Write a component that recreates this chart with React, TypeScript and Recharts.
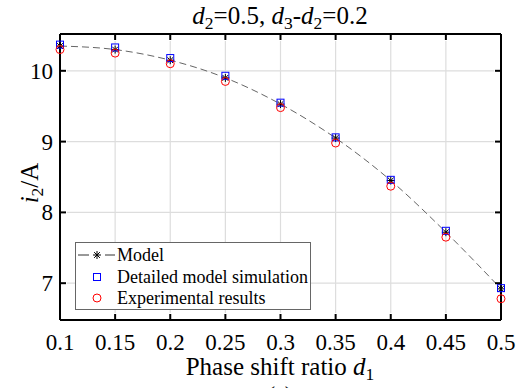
import React from 'react';
import { ComposedChart, Line, XAxis, YAxis, CartesianGrid } from 'recharts';

const phaseShift = [0.1, 0.15, 0.2, 0.25, 0.3, 0.35, 0.4, 0.45, 0.5];
const modelCurrent = [10.35, 10.3, 10.15, 9.9, 9.53, 9.05, 8.45, 7.72, 6.92];
const detailedSim = [10.37, 10.33, 10.18, 9.93, 9.55, 9.06, 8.46, 7.74, 6.93];
const experimental = [10.3, 10.25, 10.1, 9.85, 9.48, 8.98, 8.37, 7.65, 6.78];
const xTicks = [0.1, 0.15, 0.2, 0.25, 0.3, 0.35, 0.4, 0.45, 0.5];
const yTicks = [7, 8, 9, 10];
const legendLabels = ['Model', 'Detailed model simulation', 'Experimental results'];

const data = phaseShift.map((d, i) => ({
  d,
  model: modelCurrent[i],
  detailed: detailedSim[i],
  exp: experimental[i],
}));

const FONT = "'Liberation Serif', 'Times New Roman', serif";
const TICK = 6;

const Star = ({ cx, cy, s = 4 }: any) => {
  if (cx == null || cy == null) return null;
  const k = s * 0.72;
  return (
    <g stroke="#000" strokeWidth={1}>
      <line x1={cx - s} y1={cy} x2={cx + s} y2={cy} />
      <line x1={cx} y1={cy - s} x2={cx} y2={cy + s} />
      <line x1={cx - k} y1={cy - k} x2={cx + k} y2={cy + k} />
      <line x1={cx - k} y1={cy + k} x2={cx + k} y2={cy - k} />
    </g>
  );
};

const Square = ({ cx, cy }: any) => {
  if (cx == null || cy == null) return null;
  return <rect x={cx - 3.5} y={cy - 3.5} width={7} height={7} fill="none" stroke="#0000ff" strokeWidth={1} />;
};

const Circle = ({ cx, cy }: any) => {
  if (cx == null || cy == null) return null;
  return <circle cx={cx} cy={cy} r={4} fill="none" stroke="#ff0000" strokeWidth={1} />;
};

// inward tick marks; labels sit outside the box
const BottomTick = ({ x, y, payload }: any) => (
  <g>
    <path d={`M${x},${y}V${y - TICK}`} stroke="#000" strokeWidth={2} fill="none" />
    <text x={x} y={y + 30} textAnchor="middle" fontFamily={FONT} fontSize={23} fill="#000">
      {String(payload.value)}
    </text>
  </g>
);
const TopTick = ({ x, y }: any) => <path d={`M${x},${y}V${y + TICK}`} stroke="#000" strokeWidth={2} fill="none" />;
const LeftTick = ({ x, y, payload }: any) => (
  <g>
    <path d={`M${x},${y}H${x + TICK}`} stroke="#000" strokeWidth={2} fill="none" />
    <text x={x - 7} y={y + 8} textAnchor="end" fontFamily={FONT} fontSize={23} fill="#000">
      {String(payload.value)}
    </text>
  </g>
);
const RightTick = ({ x, y }: any) => <path d={`M${x},${y}H${x - TICK}`} stroke="#000" strokeWidth={2} fill="none" />;

// grid lines stop short of the frame so they never cover the tick marks
const VGrid = (p: any) => (
  <line key={p.key} x1={p.x1} x2={p.x2} y1={p.y1 + TICK + 1} y2={p.y2 - TICK - 1} stroke="#dddddd" strokeWidth={1.2} />
);
const HGrid = (p: any) => (
  <line key={p.key} x1={p.x1 + TICK + 1} x2={p.x2 - TICK - 1} y1={p.y1} y2={p.y2} stroke="#dddddd" strokeWidth={1.2} />
);

const sub: React.CSSProperties = { fontSize: '0.7em', verticalAlign: '-0.3em', lineHeight: 0 };

export default function App() {
  return (
    <div style={{ position: 'absolute', left: 0, top: 0, width: 529, height: 388, background: '#fff', fontFamily: FONT, overflow: 'hidden' }}>
      <ComposedChart width={529} height={388} data={data} margin={{ top: 33, right: 27, bottom: 67, left: 0 }}>
        <CartesianGrid vertical={VGrid} horizontal={HGrid} />
        <XAxis
          dataKey="d"
          type="number"
          domain={[0.1, 0.5]}
          ticks={xTicks}
          height={1}
          tickSize={0}
          tickMargin={0}
          tickLine={false}
          axisLine={{ stroke: '#000', strokeWidth: 2 }}
          tick={<BottomTick />}
          interval={0}
        />
        <XAxis
          xAxisId="top"
          dataKey="d"
          orientation="top"
          type="number"
          domain={[0.1, 0.5]}
          ticks={xTicks}
          height={1}
          tickSize={0}
          tickMargin={0}
          tickLine={false}
          axisLine={{ stroke: '#000', strokeWidth: 2 }}
          tick={<TopTick />}
          interval={0}
        />
        <YAxis
          type="number"
          domain={[6.48, 10.52]}
          ticks={yTicks}
          width={60}
          tickSize={0}
          tickMargin={0}
          tickLine={false}
          axisLine={{ stroke: '#000', strokeWidth: 2 }}
          tick={<LeftTick />}
          interval={0}
        />
        <YAxis
          yAxisId="right"
          dataKey="model"
          orientation="right"
          type="number"
          domain={[6.48, 10.52]}
          ticks={yTicks}
          width={1}
          tickSize={0}
          tickMargin={0}
          tickLine={false}
          axisLine={{ stroke: '#000', strokeWidth: 2 }}
          tick={<RightTick />}
          interval={0}
        />
        <Line
          dataKey="model"
          type="monotone"
          stroke="#666"
          strokeWidth={1}
          strokeDasharray="7 4"
          dot={(p: any) => <Star key={p.index} cx={p.cx} cy={p.cy} />}
          activeDot={false}
          isAnimationActive={false}
        />
        <Line
          dataKey="detailed"
          stroke="none"
          dot={(p: any) => <Square key={p.index} cx={p.cx} cy={p.cy} />}
          activeDot={false}
          isAnimationActive={false}
        />
        <Line
          dataKey="exp"
          stroke="none"
          dot={(p: any) => <Circle key={p.index} cx={p.cx} cy={p.cy} />}
          activeDot={false}
          isAnimationActive={false}
        />
        {/* invisible series so the top and right axes get their own scales */}
        <Line
          dataKey="model"
          xAxisId="top"
          yAxisId="right"
          stroke="none"
          dot={false}
          activeDot={false}
          legendType="none"
          isAnimationActive={false}
        />
      </ComposedChart>

      {/* title */}
      <div style={{ position: 'absolute', left: 0, width: 560, top: 2, textAlign: 'center', fontSize: 25, whiteSpace: 'nowrap' }}>
        <i>d</i><span style={sub}>2</span>=0.5, <i>d</i><span style={sub}>3</span>-<i>d</i><span style={sub}>2</span>=0.2
      </div>

      {/* y label */}
      <div style={{ position: 'absolute', left: 30, top: 183, transform: 'translate(-50%, -50%) rotate(-90deg)', fontSize: 25, whiteSpace: 'nowrap' }}>
        <i>i</i><span style={sub}>2</span>/A
      </div>

      {/* x label */}
      <div style={{ position: 'absolute', left: 0, width: 560, top: 352, textAlign: 'center', fontSize: 25, whiteSpace: 'nowrap', lineHeight: '30px' }}>
        Phase shift ratio <i>d</i><span style={sub}>1</span>
      </div>

      <div style={{ position: 'absolute', left: 0, width: 560, top: 381, textAlign: 'center', fontSize: 22, lineHeight: '26px' }}>(a)</div>

      {/* legend */}
      <svg style={{ position: 'absolute', left: 75, top: 242 }} width={236} height={68}>
        <rect x={0.5} y={0.5} width={235} height={67} fill="#fff" stroke="#666" strokeWidth={1} />
        <line x1={3} y1={13} x2={14} y2={13} stroke="#333" strokeWidth={1} />
        <Star cx={22} cy={13} />
        <line x1={30} y1={13} x2={40} y2={13} stroke="#333" strokeWidth={1} />
        <Square cx={22} cy={35} />
        <Circle cx={22} cy={56} />
        {legendLabels.map((t, i) => (
          <text key={t} x={42} y={19 + i * 21.5} fontFamily={FONT} fontSize={18} fill="#000">
            {t}
          </text>
        ))}
      </svg>
    </div>
  );
}
